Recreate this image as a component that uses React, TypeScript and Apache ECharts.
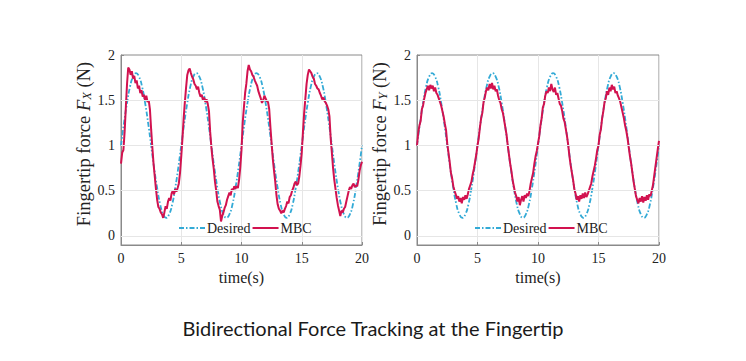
import React, { useEffect, useRef } from "react";
import * as echarts from "echarts";

// ---- data ----
const mbcStep = 0.1; // seconds between MBC samples
const desiredStep = 0.25; // seconds between desired samples

const desiredForce: number[] = [
  1.00, 1.25, 1.47, 1.65, 1.76, 1.80, 1.76, 1.65, 1.47, 1.25, 1.00, 0.75, 0.53, 0.35, 0.24, 0.20, 0.24, 0.35, 0.53, 0.75,
  1.00, 1.25, 1.47, 1.65, 1.76, 1.80, 1.76, 1.65, 1.47, 1.25, 1.00, 0.75, 0.53, 0.35, 0.24, 0.20, 0.24, 0.35, 0.53, 0.75,
  1.00, 1.25, 1.47, 1.65, 1.76, 1.80, 1.76, 1.65, 1.47, 1.25, 1.00, 0.75, 0.53, 0.35, 0.24, 0.20, 0.24, 0.35, 0.53, 0.75,
  1.00, 1.25, 1.47, 1.65, 1.76, 1.80, 1.76, 1.65, 1.47, 1.25, 1.00, 0.75, 0.53, 0.35, 0.24, 0.20, 0.24, 0.35, 0.53, 0.75,
  1.00,
];

const mbcX: number[] = [
  0.80, 0.92, 0.95, 1.15, 1.42, 1.68, 1.86, 1.84, 1.78, 1.82, 1.74, 1.77, 1.69, 1.72, 1.63, 1.66, 1.58, 1.61, 1.54, 1.56,
  1.50, 1.55, 1.48, 1.50, 1.40, 1.18, 0.98, 0.80, 0.66, 0.52, 0.40, 0.32, 0.30, 0.26, 0.24, 0.20, 0.26, 0.33, 0.30, 0.38,
  0.42, 0.39, 0.47, 0.50, 0.46, 0.52, 0.49, 0.53, 0.58, 0.70,
  0.88, 1.08, 1.30, 1.48, 1.64, 1.78, 1.83, 1.85, 1.80, 1.76, 1.73, 1.68, 1.66, 1.62, 1.65, 1.58, 1.54, 1.56, 1.50, 1.53,
  1.48, 1.51, 1.46, 1.38, 1.15, 0.98, 0.85, 0.74, 0.60, 0.50, 0.38, 0.33, 0.29, 0.16, 0.22, 0.26, 0.31, 0.34, 0.40, 0.44,
  0.48, 0.45, 0.52, 0.50, 0.55, 0.52, 0.55, 0.53, 0.62, 0.76,
  0.95, 1.25, 1.42, 1.58, 1.68, 1.82, 1.89, 1.84, 1.82, 1.78, 1.76, 1.72, 1.69, 1.66, 1.60, 1.56, 1.52, 1.47, 1.50, 1.55,
  1.52, 1.49, 1.48, 1.40, 1.20, 1.02, 0.85, 0.72, 0.60, 0.45, 0.35, 0.30, 0.28, 0.25, 0.28, 0.26, 0.30, 0.33, 0.38, 0.36,
  0.43, 0.45, 0.50, 0.53, 0.58, 0.60, 0.56, 0.58, 0.66, 0.78,
  0.92, 1.15, 1.36, 1.52, 1.68, 1.78, 1.84, 1.82, 1.80, 1.76, 1.74, 1.68, 1.66, 1.63, 1.62, 1.58, 1.55, 1.51, 1.53, 1.49,
  1.47, 1.44, 1.40, 1.32, 1.08, 0.92, 0.75, 0.62, 0.52, 0.42, 0.34, 0.28, 0.22, 0.28, 0.26, 0.30, 0.32, 0.38, 0.44, 0.50,
  0.54, 0.52, 0.56, 0.58, 0.54, 0.56, 0.55, 0.62, 0.72, 0.78, 0.82,
];

const mbcY: number[] = [
  1.00, 1.14, 1.22, 1.27, 1.40, 1.44, 1.52, 1.58, 1.62, 1.66, 1.61, 1.67, 1.63, 1.66, 1.60, 1.64, 1.58, 1.56, 1.52, 1.48,
  1.44, 1.38, 1.32, 1.24, 1.17, 1.02, 0.92, 0.82, 0.70, 0.64, 0.55, 0.50, 0.46, 0.41, 0.44, 0.38, 0.42, 0.36, 0.43, 0.40,
  0.45, 0.41, 0.46, 0.52, 0.56, 0.60, 0.68, 0.74, 0.82, 0.90,
  1.00, 1.08, 1.20, 1.30, 1.36, 1.48, 1.53, 1.60, 1.64, 1.61, 1.68, 1.63, 1.69, 1.62, 1.66, 1.60, 1.62, 1.55, 1.50, 1.47,
  1.40, 1.36, 1.28, 1.20, 1.12, 1.00, 0.90, 0.80, 0.72, 0.62, 0.55, 0.48, 0.44, 0.38, 0.43, 0.34, 0.40, 0.44, 0.38, 0.45,
  0.42, 0.47, 0.44, 0.50, 0.58, 0.64, 0.70, 0.80, 0.88, 0.94,
  1.02, 1.10, 1.22, 1.30, 1.42, 1.46, 1.55, 1.60, 1.58, 1.64, 1.60, 1.68, 1.62, 1.59, 1.64, 1.56, 1.58, 1.52, 1.46, 1.44,
  1.38, 1.30, 1.26, 1.18, 1.10, 1.00, 0.88, 0.78, 0.70, 0.62, 0.52, 0.47, 0.40, 0.44, 0.38, 0.45, 0.41, 0.47, 0.42, 0.48,
  0.43, 0.46, 0.50, 0.54, 0.58, 0.66, 0.72, 0.78, 0.86, 0.95,
  1.00, 1.12, 1.18, 1.30, 1.38, 1.48, 1.52, 1.60, 1.56, 1.64, 1.60, 1.67, 1.62, 1.65, 1.58, 1.60, 1.55, 1.52, 1.48, 1.42,
  1.36, 1.30, 1.22, 1.16, 1.08, 0.98, 0.88, 0.80, 0.70, 0.60, 0.52, 0.44, 0.40, 0.36, 0.42, 0.38, 0.44, 0.37, 0.43, 0.39,
  0.45, 0.40, 0.46, 0.44, 0.50, 0.56, 0.66, 0.76, 0.86, 0.96, 1.05,
];

const yTickValues = [0, 0.5, 1, 1.5, 2];
const yGridValues = [0, 0.5, 1, 1.5];
const legendNames = ["Desired", "MBC"];
const yAxisSubscripts = ["X", "Y"];
const xAxisTitle = "time(s)";
const chartTitle = "Bidirectional Force Tracking at the Fingertip";

// ---- styles ----
const SERIF = "'Liberation Serif', 'Times New Roman', serif";
const DESIRED_COLOR = "#33aad6";
const MBC_COLOR = "#d2124f";
const GRID_COLOR = "#e6e6e6";
const BOX_COLOR = "#8a8a8a";
const TEXT_COLOR = "#222222";

const toPairs = (vals: number[], step: number) =>
  vals.map((v, i) => [Math.round(i * step * 100) / 100, v]);

export default function App() {
  const ref = useRef<HTMLDivElement>(null);

  useEffect(() => {
    document.body.style.margin = "0";
    if (!ref.current) return;
    const chart = echarts.init(ref.current, undefined, { renderer: "svg" });

    const grids = [
      { left: 121, right: 384, top: 55, bottom: 116 },
      { left: 417, right: 87, top: 55, bottom: 116 },
    ];
    const mbcData = [mbcX, mbcY];

    const xAxes = grids.map((_, gi) => ({
      type: "value",
      gridIndex: gi,
      min: 0,
      max: 20,
      interval: 5,
      name: xAxisTitle,
      nameLocation: "middle",
      nameGap: 24,
      nameTextStyle: { fontFamily: SERIF, fontSize: 16, color: TEXT_COLOR },
      axisLine: { show: true, onZero: false, lineStyle: { color: BOX_COLOR, width: 1 } },
      axisTick: { show: true, inside: true, length: 3, lineStyle: { color: BOX_COLOR } },
      axisLabel: { fontFamily: SERIF, fontSize: 14, color: TEXT_COLOR, margin: 6 },
      splitLine: { show: true, lineStyle: { color: GRID_COLOR, width: 1 } },
    }));

    const yAxes = grids.map((_, gi) => ({
      type: "value",
      gridIndex: gi,
      min: -0.1,
      max: 2,
      name: `{n|Fingertip force }{i|F}{s|${yAxisSubscripts[gi]}}{n| (N)}`,
      nameLocation: "middle",
      nameGap: 22,
      nameRotate: 90,
      nameTextStyle: {
        color: TEXT_COLOR,
        padding: [0, 0, 0, 12],
        rich: {
          n: { fontFamily: SERIF, fontSize: 18.5, color: TEXT_COLOR },
          i: { fontFamily: SERIF, fontSize: 18.5, fontStyle: "italic", color: TEXT_COLOR },
          s: { fontFamily: SERIF, fontSize: 12.5, fontStyle: "italic", color: TEXT_COLOR, verticalAlign: "bottom", padding: [7, 0, 0, 0] },
        },
      },
      axisLine: { show: true, onZero: false, lineStyle: { color: BOX_COLOR, width: 1 } },
      axisTick: { show: true, inside: true, length: 3, customValues: yTickValues, lineStyle: { color: BOX_COLOR } },
      axisLabel: { fontFamily: SERIF, fontSize: 14, color: TEXT_COLOR, margin: 6, customValues: yTickValues },
      splitLine: { show: false },
    }));

    const series: any[] = [];
    grids.forEach((_, gi) => {
      series.push({
        name: "gridlines",
        type: "line",
        xAxisIndex: gi,
        yAxisIndex: gi,
        data: [[0, 1]],
        symbol: "none",
        silent: true,
        z: 0,
        lineStyle: { opacity: 0 },
        markLine: {
          silent: true,
          symbol: "none",
          label: { show: false },
          lineStyle: { color: GRID_COLOR, type: "solid", width: 1 },
          data: yGridValues.map((v) => ({ yAxis: v })),
        },
      });
      series.push({
        name: legendNames[0],
        type: "line",
        xAxisIndex: gi,
        yAxisIndex: gi,
        data: toPairs(desiredForce, desiredStep),
        smooth: true,
        showSymbol: false,
        symbol: "none",
        z: 3,
        lineStyle: { color: DESIRED_COLOR, width: 1.8, type: [5, 2, 1.5, 2] },
        itemStyle: { color: DESIRED_COLOR },
      });
      series.push({
        name: legendNames[1],
        type: "line",
        xAxisIndex: gi,
        yAxisIndex: gi,
        data: toPairs(mbcData[gi], mbcStep),
        showSymbol: false,
        symbol: "none",
        z: 4,
        lineStyle: { color: MBC_COLOR, width: 2 },
        itemStyle: { color: MBC_COLOR },
      });
    });

    const legendCommon = {
      data: legendNames,
      orient: "horizontal",
      top: 221,
      itemWidth: 26,
      itemHeight: 10,
      itemGap: 1,
      itemStyle: { opacity: 0 },
      textStyle: { fontFamily: SERIF, fontSize: 14, color: TEXT_COLOR, padding: [0, 0, 0, -3] },
      selectedMode: false,
      padding: 0,
    };

    chart.setOption({
      animation: false,
      backgroundColor: "#ffffff",
      grid: grids.map((g) => ({ ...g, show: true, borderColor: BOX_COLOR, borderWidth: 1, backgroundColor: "transparent" })),
      xAxis: xAxes,
      yAxis: yAxes,
      legend: [
        { ...legendCommon, left: 178 },
        { ...legendCommon, left: 474 },
      ],
      series,
      graphic: [
        {
          type: "text",
          x: 373,
          y: 328,
          style: {
            text: chartTitle,
            fontFamily: "Lato, 'Open Sans', sans-serif",
            fontSize: 20,
            fill: "#1a1a1a",
            textAlign: "center",
            textVerticalAlign: "middle",
          },
        },
      ],
    });

    return () => chart.dispose();
  }, []);

  return (
    <div
      ref={ref}
      style={{ position: "fixed", left: 0, top: 0, width: 746, height: 361, background: "#fff" }}
    />
  );
}
